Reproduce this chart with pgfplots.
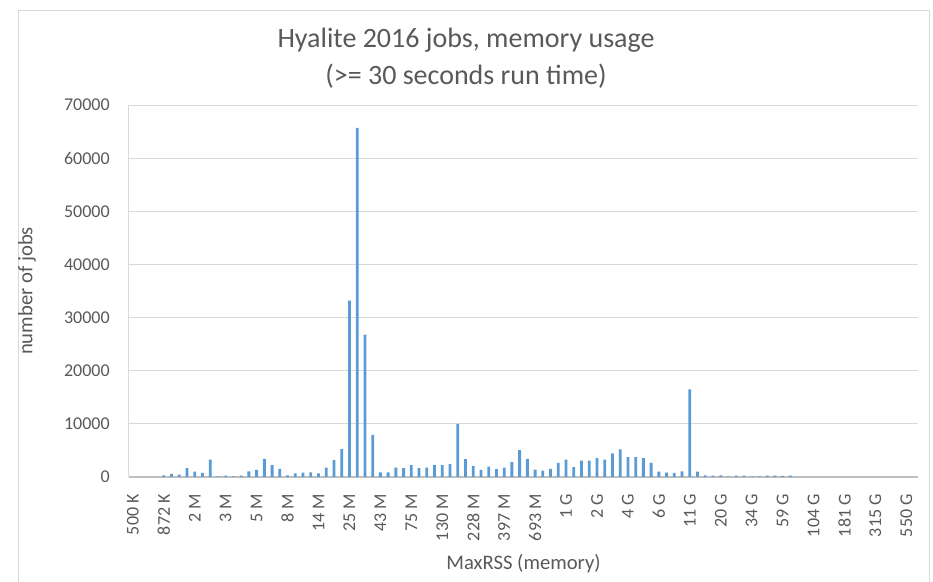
\documentclass[border=0pt]{standalone}
\usepackage{fontspec}
\setmainfont{Carlito}
\usepackage{pgfplots}
\pgfplotsset{compat=1.18}
\definecolor{barblue}{HTML}{5B9BD5}
\definecolor{txt}{HTML}{595959}
\definecolor{gridc}{HTML}{D9D9D9}
\definecolor{axl}{HTML}{BFBFBF}
\begin{document}
\begin{tikzpicture}
\useasboundingbox (0,0) rectangle (699.75pt,436.5pt);
\draw[gridc, line width=0.75pt] (13.5pt,-5pt) -- (13.5pt,428.25pt) -- (696.75pt,428.25pt) -- (696.75pt,-5pt);
\node[text=txt, align=center, font=\fontsize{21}{27.75}\selectfont] at (349.5pt,392.6pt) {Hyalite 2016 jobs, memory usage\\(>= 30 seconds run time)};
\begin{axis}[
  at={(96.75pt,78.75pt)}, anchor=south west,
  scale only axis, width=591.75pt, height=279pt,
  ybar, bar width=2.1pt,
  xmin=-0.5, xmax=101.5, ymin=0, ymax=70000,
  ytick={0,10000,...,70000},
  xtick={0,4,...,100},
  xticklabels={500 K, 872 K, 2 M, 3 M, 5 M, 8 M, 14 M, 25 M, 43 M, 75 M, 130 M, 228 M, 397 M, 693 M, 1 G, 2 G, 4 G, 6 G, 11 G, 20 G, 34 G, 59 G, 104 G, 181 G, 315 G, 550 G},
  ymajorgrids, grid style={gridc, line width=0.75pt},
  axis x line*=bottom, axis y line*=left,
  x axis line style={axl, line width=1pt, -},
  y axis line style={gridc, line width=0.75pt, -},
  tick style={draw=none}, major tick length=0pt,
  /pgf/number format/assume math mode=true,
  /pgf/number format/1000 sep={},
  scaled y ticks=false,
  yticklabel style={font=\fontsize{13.5}{16}\selectfont, text=txt, inner sep=0pt, anchor=east},
  yticklabel shift=14.25pt,
  xticklabel style={font=\fontsize{13.5}{16}\selectfont, text=txt, inner sep=0pt, rotate=90, anchor=east},
  xticklabel shift=12.75pt,
  xlabel={MaxRSS (memory)},
  ylabel={number of jobs},
  xlabel style={font=\fontsize{15.5}{18}\selectfont, text=txt, at={(axis description cs:0.5,-0.232)}, anchor=center},
  ylabel style={font=\fontsize{15.5}{18}\selectfont, text=txt, at={(axis description cs:-0.1293,0.5)}, anchor=center},
]
\addplot[fill=barblue, draw=none] coordinates {
(4,300) (5,570) (6,440) (7,1650) (8,1010) (9,760) (10,3290) (11,130) (12,250) (13,130)
(14,250) (15,1080) (16,1330) (17,3420) (18,2220) (19,1520) (20,320) (21,700) (22,820) (23,890)
(24,700) (25,1770) (26,3160) (27,5250) (28,33200) (29,65700) (30,26800) (31,7910) (32,890) (33,890)
(34,1770) (35,1650) (36,2220) (37,1650) (38,1770) (39,2220) (40,2220) (41,2410) (42,10000) (43,3350)
(44,2090) (45,1330) (46,1960) (47,1460) (48,1770) (49,2780) (50,5060) (51,3420) (52,1390) (53,1200)
(54,1520) (55,2660) (56,3290) (57,1840) (58,3100) (59,3100) (60,3540) (61,3290) (62,4430) (63,5190)
(64,3730) (65,3730) (66,3540) (67,2660) (68,1010) (69,820) (70,760) (71,1080) (72,16500) (73,1010)
(74,320) (75,250) (76,320) (77,130) (78,250) (79,250) (80,130) (81,130) (82,250) (83,250)
(84,190) (85,250)
};
\end{axis}
\end{tikzpicture}
\end{document}
